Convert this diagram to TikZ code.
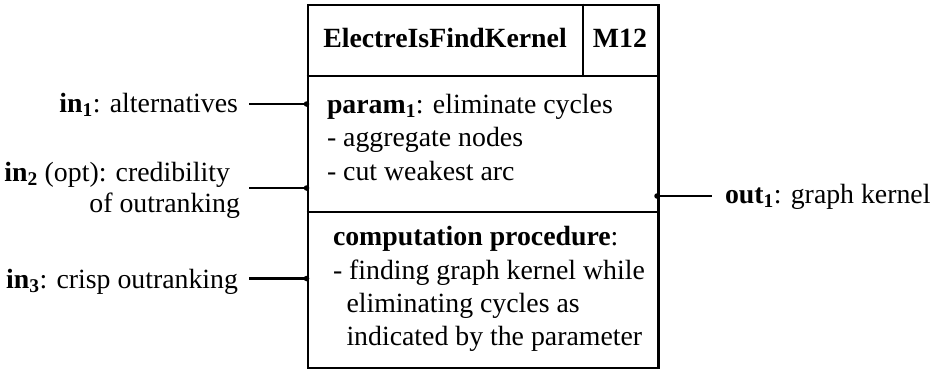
\documentclass[tikz,border=0pt]{standalone}
\usepackage{fontspec}
\setmainfont{Liberation Serif}
\begin{document}
\begin{tikzpicture}[x=1pt,y=-1pt,
  txt/.style={font=\fontsize{27.8}{33.5}\selectfont, inner sep=0pt, outer sep=0pt},
  frame/.style={line width=2.8pt},
  divider/.style={line width=1.8pt},
  wire/.style={line width=2.7pt},
  joint/.style={circle, fill, inner sep=0pt, minimum size=5.5pt}]
\useasboundingbox (0,0) rectangle (931,370);

% module box and its cells
\node[draw, frame, minimum width=350.5pt, minimum height=363pt,
      anchor=north west, inner sep=0pt] (box) at (306.5,3.5) {};
\draw[divider] (306.5,76) -- (657,76);
\draw[divider] (306.5,212) -- (657,212);
\draw[divider] (582.7,3.5) -- (582.7,76);

% title row
\node[txt, anchor=base] (title) at (445,47) {\textbf{ElectreIsFindKernel}};
\node[txt, anchor=base] (code) at (620,47) {\textbf{M12}};

% parameter cell
\node[txt, anchor=base west] (p1) at (327,113) {\textbf{param\textsubscript{1}}: eliminate cycles};
\node[txt, anchor=base west] (p2) at (327,146.5) {- aggregate nodes};
\node[txt, anchor=base west] (p3) at (327,180) {- cut weakest arc};

% procedure cell
\node[txt, anchor=base west] (c1) at (333,245) {\textbf{computation procedure}:};
\node[txt, anchor=base west] (c2) at (333,279) {- finding graph kernel while};
\node[txt, anchor=base west] (c3) at (346.5,312) {eliminating cycles as};
\node[txt, anchor=base west] (c4) at (346.5,345) {indicated by the parameter};

% inputs
\node[txt, anchor=base east] (in1) at (238,112) {\textbf{in\textsubscript{1}}: alternatives};
\node[txt, anchor=base east] (in2a) at (230,181) {\textbf{in\textsubscript{2}} (opt): credibility};
\node[txt, anchor=base east] (in2b) at (240,212) {of outranking};
\node[txt, anchor=base east] (in3) at (238,288) {\textbf{in\textsubscript{3}}: crisp outranking};

% output
\node[txt, anchor=base west] (out1) at (725,203) {\textbf{out\textsubscript{1}}: graph kernel};

% wire ends
\coordinate (a1) at (249,104);
\coordinate (a2) at (249,188);
\coordinate (a3) at (249,278.5);
\coordinate (b1) at (306.5,104);
\coordinate (b2) at (306.5,188);
\coordinate (b3) at (306.5,278.5);
\coordinate (o0) at (657,196);
\coordinate (o1) at (712,196);

\draw[wire] (a1) -- (b1);
\draw[wire] (a2) -- (b2);
\draw[wire] (a3) -- (b3);
\draw[wire] (o0) -- (o1);
\foreach \p in {b1,b2,b3,o0} \node[joint] at (\p) {};
\end{tikzpicture}
\end{document}
